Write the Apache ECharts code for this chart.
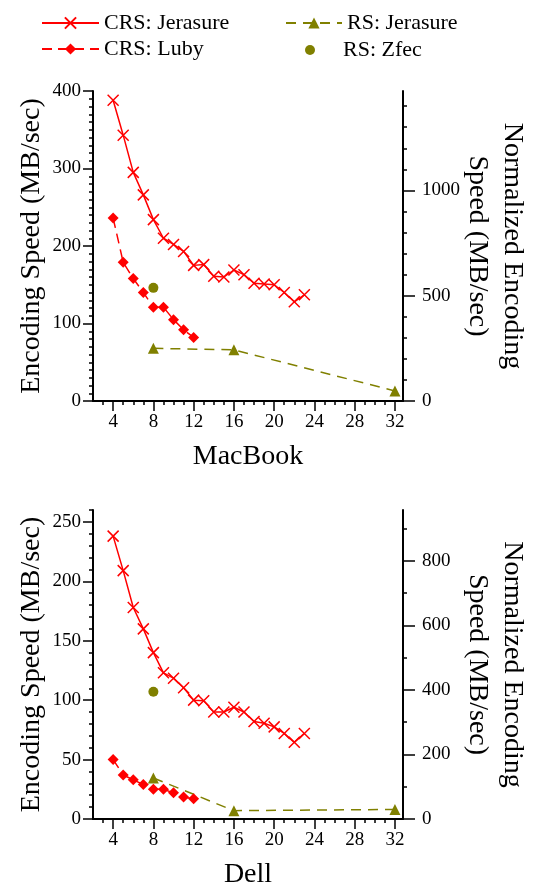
<!DOCTYPE html>
<html>
<head>
<meta charset="utf-8">
<script src="https://cdn.jsdelivr.net/npm/echarts@6/dist/echarts.min.js"></script>
<style>
html,body{margin:0;padding:0;background:#fff;}
#chart{width:534px;height:884px;}
</style>
</head>
<body>
<div id="chart"></div>
<script>
// ---- data ----
const xCRSJerasure = [4,5,6,7,8,9,10,11,12,13,14,15,16,17,18,19,20,21,22,23];
const xCRSLuby = [4,5,6,7,8,9,10,11,12];
const xRSJerasure = [8,16,32];
const xRSZfec = [8];

const macCRSJerasure = [388,343,295,266,234,210,202,193,175,176,161,160,169,163,152,151,150,140,128,137];
const macCRSLuby = [236,179,158,140,121,121,105,92,82];
const macRSJerasure = [68,66,13];
const macRSZfec = [146];

const dellCRSJerasure = [238,209,178,160,140,123,118.5,110.5,100,99.5,90,90,94,90,82,80.5,77.5,72,64.5,72];
const dellCRSLuby = [50,37,33,29,25,25,22,18.5,17];
const dellRSJerasure = [34.5,7,8];
const dellRSZfec = [107];

const xMajorTicks = [4,8,12,16,20,24,28,32];
const xMinorTicks = [3,4,5,6,7,8,9,10,11,12,13,14,15,16,17,18,19,20,21,22,23,24,25,26,27,28,29,30,31,32];
const macLeftMajor = [0,100,200,300,400];
const macRightMajor = [0,500,1000];
const dellLeftMajor = [0,50,100,150,200,250];
const dellRightMajor = [0,200,400,600,800];
const seriesNames = ['CRS: Jerasure','CRS: Luby','RS: Jerasure','RS: Zfec'];
const panelNames = ['MacBook','Dell'];
const leftName = 'Encoding Speed (MB/sec)';
const rightName = 'Normalized Encoding\nSpeed (MB/sec)';

// ---- helpers ----
const FONT = 'Liberation Serif';
const RED = '#ff0000', OLIVE = '#808000';
const X_PATH = 'path://M0,0L10,10M10,0L0,10';
function range(a,b,s){const r=[];for(let v=a;v<=b+1e-9;v+=s)r.push(Math.round(v*100)/100);return r;}
function pairs(xs,ys){return xs.map((x,i)=>[x,ys[i]]);}
const plain = v => String(v);

const grids = [
  {left:93, right:131, top:91, height:310, outerBoundsMode:'none', containLabel:false},
  {left:93, right:131, top:510, height:309, outerBoundsMode:'none', containLabel:false}
];
const panels = [
  {leftMax:400, rightMax:1472, leftMajor:macLeftMajor, rightMajor:macRightMajor, leftMinorStep:10, rightMinorStep:100,
   data:[macCRSJerasure,macCRSLuby,macRSJerasure,macRSZfec]},
  {leftMax:260, rightMax:957, leftMajor:dellLeftMajor, rightMajor:dellRightMajor, leftMinorStep:10, rightMinorStep:100,
   data:[dellCRSJerasure,dellCRSLuby,dellRSJerasure,dellRSZfec]}
];

const xAxis = [], yAxis = [], series = [];
const axisLineStyle = {color:'#000', width:2};
const labelStyle = {color:'#000', fontFamily:FONT, fontSize:19};
const nameStyle = {color:'#000', fontFamily:FONT, fontSize:28};

panels.forEach((p,gi)=>{
  xAxis.push({gridIndex:gi, type:'value', min:2, max:32.8, position:'bottom',
    name:panelNames[gi], nameLocation:'middle', nameGap:42, nameMoveOverlap:false, nameTextStyle:nameStyle,
    axisLine:{show:true, onZero:false, lineStyle:axisLineStyle},
    axisTick:{show:true, length:10, lineStyle:{color:'#000', width:1.5}, customValues:xMajorTicks},
    axisLabel:{show:true, margin:12, customValues:xMajorTicks, formatter:plain, ...labelStyle},
    splitLine:{show:false}});
  xAxis.push({gridIndex:gi, type:'value', min:2, max:32.8, position:'bottom',
    axisLine:{show:false, onZero:false},
    axisTick:{show:true, length:4, lineStyle:{color:'#000', width:1.5}, customValues:xMinorTicks},
    axisLabel:{show:false}, splitLine:{show:false}});
  yAxis.push({gridIndex:gi, type:'value', min:0, max:p.leftMax, position:'left',
    name:leftName, nameLocation:'middle', nameGap:47, nameRotate:90, nameMoveOverlap:false, nameTextStyle:nameStyle,
    axisLine:{show:true, onZero:false, lineStyle:axisLineStyle},
    axisTick:{show:true, length:10, lineStyle:{color:'#000', width:1.5}, customValues:p.leftMajor},
    axisLabel:{show:true, margin:12, customValues:p.leftMajor, formatter:plain, ...labelStyle},
    splitLine:{show:false}});
  yAxis.push({gridIndex:gi, type:'value', min:0, max:p.leftMax, position:'left',
    axisLine:{show:false},
    axisTick:{show:true, length:4, lineStyle:{color:'#000', width:1.5}, customValues:range(0,p.leftMax,p.leftMinorStep)},
    axisLabel:{show:false}, splitLine:{show:false}});
  yAxis.push({gridIndex:gi, type:'value', min:0, max:p.rightMax, position:'right',
    name:rightName, nameLocation:'middle', nameGap:57, nameRotate:-90, nameMoveOverlap:false,
    nameTextStyle:{...nameStyle, lineHeight:35},
    axisLine:{show:true, onZero:false, lineStyle:axisLineStyle},
    axisTick:{show:true, length:12, lineStyle:{color:'#000', width:1.5}, customValues:p.rightMajor},
    axisLabel:{show:true, margin:19, customValues:p.rightMajor, formatter:plain, ...labelStyle},
    splitLine:{show:false}});
  yAxis.push({gridIndex:gi, type:'value', min:0, max:p.rightMax, position:'right',
    axisLine:{show:false},
    axisTick:{show:true, length:4, lineStyle:{color:'#000', width:1.5}, customValues:range(0,p.rightMax,p.rightMinorStep)},
    axisLabel:{show:false}, splitLine:{show:false}});

  const xi = gi*2, yi = gi*4;
  series.push({name:seriesNames[0], type:'line', xAxisIndex:xi, yAxisIndex:yi,
    data:pairs(xCRSJerasure,p.data[0]), symbol:X_PATH, symbolSize:11,
    lineStyle:{color:RED, width:1.5},
    itemStyle:{color:RED, borderColor:RED, borderWidth:1.5}, emphasis:{disabled:true}});
  series.push({name:seriesNames[1], type:'line', xAxisIndex:xi, yAxisIndex:yi,
    data:pairs(xCRSLuby,p.data[1]), symbol:'diamond', symbolSize:11,
    lineStyle:{color:RED, width:1.5, type:[10,6]},
    itemStyle:{color:RED}, emphasis:{disabled:true}});
  series.push({name:seriesNames[2], type:'line', xAxisIndex:xi, yAxisIndex:yi,
    data:pairs(xRSJerasure,p.data[2]), symbol:'triangle', symbolSize:11,
    lineStyle:{color:OLIVE, width:1.5, type:[10,7]},
    itemStyle:{color:OLIVE}, emphasis:{disabled:true}});
  series.push({name:seriesNames[3], type:'scatter', xAxisIndex:xi, yAxisIndex:yi,
    data:pairs(xRSZfec,p.data[3]), symbol:'circle', symbolSize:10,
    itemStyle:{color:OLIVE, opacity:1}, emphasis:{disabled:true}});
});

const legendText = {color:'#000', fontFamily:FONT, fontSize:22};
const option = {
  animation:false,
  backgroundColor:'#fff',
  legend:[
    {data:[seriesNames[0],seriesNames[1]], orient:'vertical', left:41, top:12, padding:0,
     itemWidth:57, itemHeight:14, itemGap:4, textStyle:legendText, selectedMode:false},
    {data:[seriesNames[2]], orient:'vertical', left:285, top:12, padding:0,
     itemWidth:56, itemHeight:14, itemGap:4, textStyle:legendText, selectedMode:false},
    {data:[seriesNames[3]], orient:'vertical', left:305, top:39, padding:0,
     itemWidth:56, itemHeight:10, itemGap:4, textStyle:legendText, selectedMode:false,
     itemStyle:{opacity:1}}
  ],
  grid:grids,
  xAxis:xAxis,
  yAxis:yAxis,
  series:series
};
const chart = echarts.init(document.getElementById('chart'), null, {renderer:'canvas'});
chart.setOption(option);
</script>
</body>
</html>
